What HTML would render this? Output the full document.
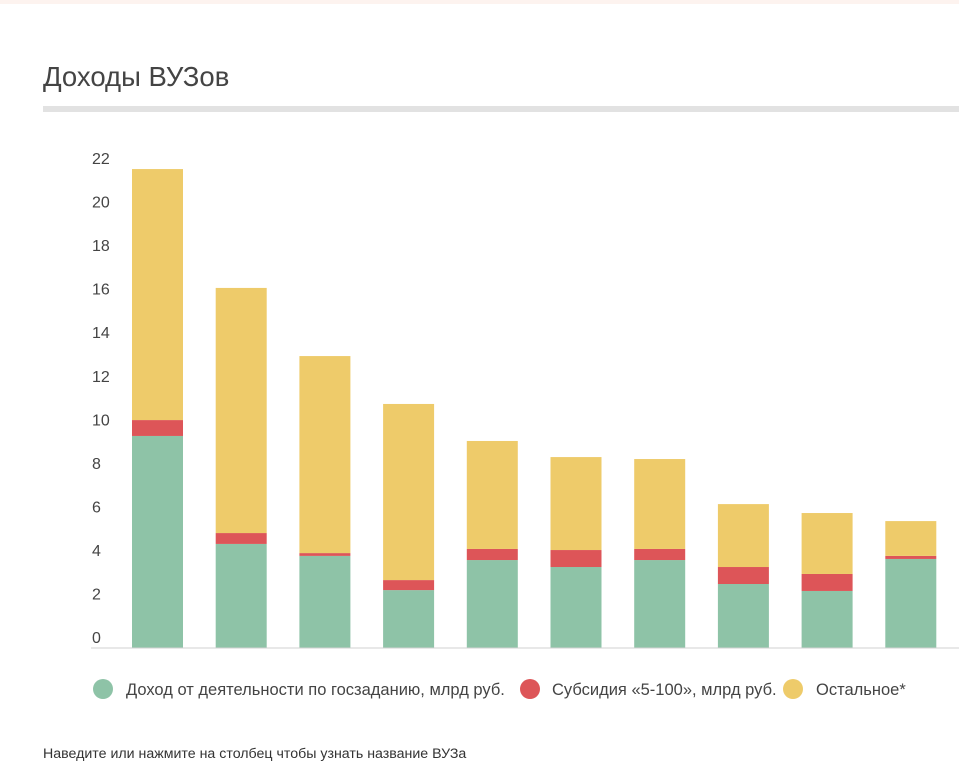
<!DOCTYPE html>
<html><head><meta charset="utf-8"><style>
body{margin:0;background:#fff;font-family:"Liberation Sans","Noto Sans CJK SC",sans-serif;}
#wrap{position:relative;width:959px;height:775px;overflow:hidden;border-top:4px solid #fdf3ef;box-sizing:border-box;}
</style></head><body>
<div id="wrap">
<svg width="959" height="775" style="position:absolute;left:0;top:-4px">
<text x="43" y="86" font-size="27.5" fill="#444">Доходы ВУЗов</text>
<rect x="43" y="106" width="916" height="6" fill="#e2e2e2"/>
<g id="yaxis"></g>
<g id="bars"></g>
<line x1="91" y1="648" x2="959" y2="648" stroke="#d0d0d0" stroke-width="1"/>
<g>
<g><circle cx="103" cy="689" r="10" fill="#8ec3a7"/><text x="126" y="695" font-size="16.5" fill="#444">Доход от деятельности по госзаданию, млрд руб.</text></g>
<g><circle cx="530" cy="689" r="10" fill="#dd5558"/><text x="552" y="695" font-size="16.5" fill="#444">Субсидия «5-100», млрд руб.</text></g>
<g><circle cx="793" cy="689" r="10" fill="#eecb6a"/><text x="816" y="695" font-size="16.5" fill="#444">Остальное*</text></g>
</g>
<text x="43" y="758" font-size="14.2" fill="#333">Наведите или нажмите на столбец чтобы узнать название ВУЗа</text>
</svg>
</div>
<script>
const ticks=[0,2,4,6,8,10,12,14,16,18,20,22];
const stateIncome=[9.74,4.78,4.23,2.66,4.04,3.72,4.04,2.94,2.62,4.09];
const subsidy=[0.73,0.50,0.13,0.46,0.51,0.78,0.51,0.78,0.78,0.14];
const other=[11.53,11.26,9.05,8.09,4.96,4.27,4.13,2.89,2.80,1.60];
const NS="http://www.w3.org/2000/svg";
const y0=648,k=21.77;
function y(v){return y0-v*k;}
function x(i){return 132+i*83.7;}
const ya=document.getElementById('yaxis');
ticks.forEach(t=>{const e=document.createElementNS(NS,'text');
e.setAttribute('x',92);e.setAttribute('y',y(t)-5);e.setAttribute('font-size',16);e.setAttribute('fill','#444');


e.textContent=t;ya.appendChild(e);});
const bg=document.getElementById('bars');
const series=[[stateIncome,'#8ec3a7','bar-state'],[subsidy,'#dd5558','bar-subsidy'],[other,'#eecb6a','bar-other']];
stateIncome.forEach((_,i)=>{let base=0;
series.forEach(([arr,c,n])=>{const v=arr[i];const r=document.createElementNS(NS,'rect');
r.setAttribute('x',x(i));r.setAttribute('width',51);r.setAttribute('y',y(base+v));r.setAttribute('height',v*k);r.setAttribute('fill',c);


bg.appendChild(r);base+=v;});});
</script>
</body></html>
